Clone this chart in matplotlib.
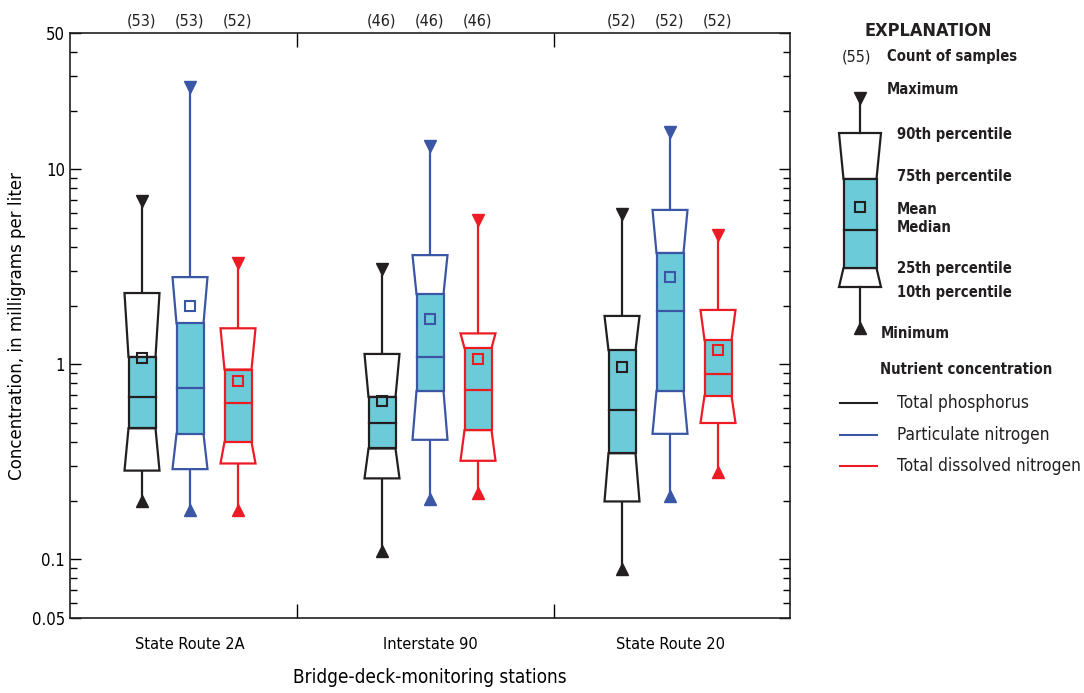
import matplotlib.pyplot as plt
from matplotlib.patches import Polygon, Rectangle

plt.rcParams['font.family'] = ['DejaVu Sans']
plt.rcParams['font.stretch'] = 'condensed'

stations = ['State Route 2A', 'Interstate 90', 'State Route 20']
nutrients = ['Total phosphorus', 'Particulate nitrogen', 'Total dissolved nitrogen']
colors = ['#231f20', '#3a56a5', '#ed1c24']
fill = '#6bcbd9'

# one entry per station, in nutrient order
counts = [[53, 53, 52], [46, 46, 46], [52, 52, 52]]
vmax = [[6.9, 26.5, 3.3], [3.08, 13.2, 5.5], [5.9, 15.6, 4.6]]
p90 = [[2.32, 2.8, 1.53], [1.13, 3.63, 1.44], [1.77, 6.19, 1.90]]
p75 = [[1.09, 1.62, 0.94], [0.68, 2.29, 1.21], [1.18, 3.72, 1.33]]
means = [[1.08, 1.99, 0.82], [0.65, 1.70, 1.06], [0.97, 2.80, 1.19]]
medians = [[0.68, 0.76, 0.63], [0.50, 1.09, 0.74], [0.58, 1.87, 0.89]]
p25 = [[0.47, 0.44, 0.40], [0.37, 0.73, 0.46], [0.35, 0.73, 0.69]]
p10 = [[0.285, 0.29, 0.31], [0.26, 0.41, 0.32], [0.198, 0.44, 0.50]]
vmin = [[0.20, 0.18, 0.18], [0.11, 0.205, 0.22], [0.089, 0.21, 0.28]]

centers = [120, 360, 600]
offsets = [-48, 0, 48]
bounds = [227, 484]
W, w = 17.5, 13.5
lw = 1.6

fig = plt.figure(figsize=(10.84, 6.93), dpi=100)
ax = fig.add_axes([70 / 1084, 1 - 618 / 693, 720 / 1084, 585 / 693])
ax.set_yscale('log')
ax.set_ylim(0.05, 50)
ax.set_xlim(0, 720)


def draw_box(ax, x, q, c):
    mx, h90, h75, mean, med, l25, l10, mn = q
    ax.plot([x, x], [h90, mx], color=c, lw=lw, zorder=2)
    ax.plot([x, x], [l10, mn], color=c, lw=lw, zorder=2)
    ax.add_patch(Polygon([(x - W, h90), (x + W, h90), (x + w, h75), (x - w, h75)],
                         closed=True, fc='white', ec=c, lw=lw, zorder=3))
    ax.add_patch(Polygon([(x - w, l25), (x + w, l25), (x + W, l10), (x - W, l10)],
                         closed=True, fc='white', ec=c, lw=lw, zorder=3))
    ax.add_patch(Rectangle((x - w, l25), 2 * w, h75 - l25, fc=fill, ec=c, lw=lw, zorder=4))
    ax.plot([x - w, x + w], [med, med], color=c, lw=lw, zorder=5)
    ax.plot(x, mean, marker='s', ms=7.5, mfc='none', mec=c, mew=1.5, zorder=6)
    ax.plot(x, mx, marker='v', ms=9, color=c, zorder=6)
    ax.plot(x, mn, marker='^', ms=9, color=c, zorder=6)


for i, cx in enumerate(centers):
    for j in range(3):
        x = cx + offsets[j]
        q = [vmax[i][j], p90[i][j], p75[i][j], means[i][j], medians[i][j],
             p25[i][j], p10[i][j], vmin[i][j]]
        draw_box(ax, x, q, colors[j])
        ax.text(x, 57.5, f'({counts[i][j]})', ha='center', va='center', fontsize=11.5,
                color='#231f20', clip_on=False)

ax.set_yticks([0.05, 0.1, 1, 10, 50])
ax.set_yticklabels(['0.05', '0.1', '1', '10', '50'])
ax.tick_params(axis='y', which='major', direction='in', length=8, right=True, labelsize=12, width=1)
ax.tick_params(axis='y', which='minor', direction='in', length=5, right=True, width=1)
ax.set_xticks(centers)
ax.set_xticklabels(stations)
ax.set_xticks(bounds, minor=True)
ax.tick_params(axis='x', which='major', length=0, labelsize=11.7, pad=14)
ax.tick_params(axis='x', which='minor', direction='in', length=10, top=True, width=1)
for s in ax.spines.values():
    s.set_linewidth(1.2)
    s.set_color('#231f20')

ax.set_xlabel('Bridge-deck-monitoring stations', fontsize=13.6, labelpad=11)
ax.set_ylabel('Concentration, in milligrams per liter', fontsize=13.3, labelpad=4)

# explanation panel, in pixel coordinates
lg = fig.add_axes([0, 0, 1, 1], zorder=-1)
lg.set_xlim(0, 1084)
lg.set_ylim(693, 0)
lg.axis('off')

ex = 860
lg.plot([ex, ex], [98, 133], color='#231f20', lw=lw)
lg.plot([ex, ex], [287, 328], color='#231f20', lw=lw)
lg.add_patch(Polygon([(ex - 21, 133), (ex + 21, 133), (ex + 16.5, 179), (ex - 16.5, 179)],
                     closed=True, fc='white', ec='#231f20', lw=lw))
lg.add_patch(Polygon([(ex - 16.5, 268), (ex + 16.5, 268), (ex + 21, 287), (ex - 21, 287)],
                     closed=True, fc='white', ec='#231f20', lw=lw))
lg.add_patch(Rectangle((ex - 16.5, 179), 33, 89, fc=fill, ec='#231f20', lw=lw))
lg.plot([ex - 16.5, ex + 16.5], [230, 230], color='#231f20', lw=lw)
lg.plot(ex, 207, marker='s', ms=7.5, mfc='none', mec='#231f20', mew=1.5)
lg.plot(ex, 98, marker='v', ms=9, color='#231f20')
lg.plot(ex, 328, marker='^', ms=9, color='#231f20')

bold = dict(fontsize=10.6, fontweight='bold', color='#231f20', va='center', ha='left')
lg.text(864, 31, 'EXPLANATION', fontsize=13, fontweight='bold', color='#231f20', va='center')
lg.text(842, 57, '(55)', fontsize=11.5, color='#231f20', va='center')
lg.text(887, 57, 'Count of samples', **bold)
lg.text(887, 90, 'Maximum', **bold)
lg.text(897, 135, '90th percentile', **bold)
lg.text(897, 177, '75th percentile', **bold)
lg.text(897, 209, 'Mean', **bold)
lg.text(897, 228, 'Median', **bold)
lg.text(897, 269, '25th percentile', **bold)
lg.text(897, 293, '10th percentile', **bold)
lg.text(881, 333, 'Minimum', **bold)
lg.text(880, 369, 'Nutrient concentration', **bold)
for k, (name, c) in enumerate(zip(nutrients, colors)):
    y = 403 + 31.5 * k
    lg.plot([840, 877], [y, y], color=c, lw=1.5)
    lg.text(897, y, name, fontsize=12.4, color='#231f20', va='center')

fig.savefig('out.png', dpi=100)
